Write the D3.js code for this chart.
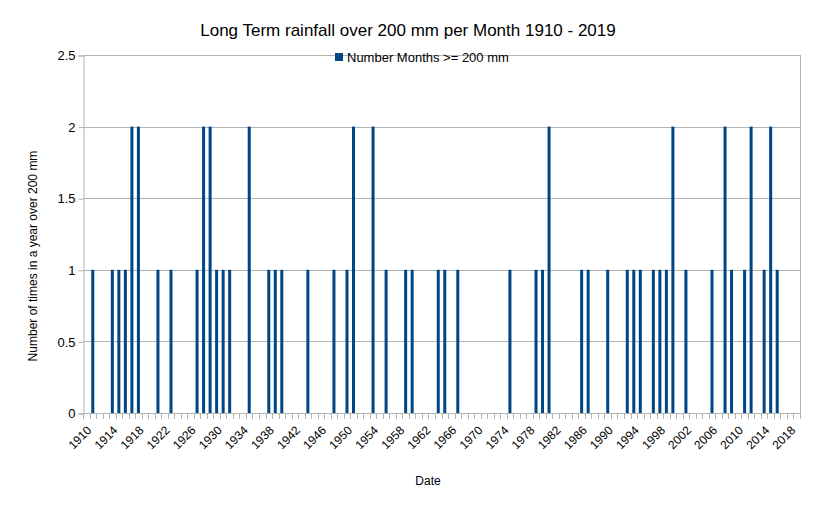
<!DOCTYPE html>
<html>
<head>
<meta charset="utf-8">
<script src="https://cdn.jsdelivr.net/npm/d3@7"></script>
<style>
  body { margin: 0; background: #fff; }
  text { font-family: "Liberation Sans", Arial, sans-serif; fill: #000; }
</style>
</head>
<body>
<svg width="815" height="508"></svg>
<script>
// years 1910 - 2019
var years = d3.range(1910, 2020);
// years with one month over 200 mm, and years with two
var oneMonth = [1911, 1914, 1915, 1916, 1921, 1923, 1927, 1930, 1931, 1932, 1938, 1939, 1940,
  1944, 1948, 1950, 1956, 1959, 1960, 1964, 1965, 1967, 1975, 1979, 1980, 1986, 1987, 1990,
  1993, 1994, 1995, 1997, 1998, 1999, 2002, 2006, 2009, 2011, 2014, 2016];
var twoMonths = [1917, 1918, 1928, 1929, 1935, 1951, 1954, 1981, 2000, 2008, 2012, 2015];
var counts = years.map(function(y) {
  if (twoMonths.indexOf(y) >= 0) return 2;
  if (oneMonth.indexOf(y) >= 0) return 1;
  return 0;
});
var yTicks = [0, 0.5, 1, 1.5, 2, 2.5];
var xLabels = years.filter(function(y) { return (y - 1910) % 4 === 0; });

var svg = d3.select("svg");
var plotL = 83, plotR = 800, plotT = 55, plotB = 413;

var x = d3.scaleBand().domain(years).range([plotL, plotR]);
var y = d3.scaleLinear().domain([0, 2.5]).range([plotB, plotT]);

// grid
svg.append("g").selectAll("line").data(yTicks).enter().append("line")
  .attr("x1", plotL).attr("x2", plotR)
  .attr("y1", function(d) { return Math.round(y(d)) + 0.5; })
  .attr("y2", function(d) { return Math.round(y(d)) + 0.5; })
  .attr("stroke", "#b3b3b3");

svg.append("line").attr("x1", plotR + 0.5).attr("x2", plotR + 0.5)
  .attr("y1", plotT).attr("y2", plotB).attr("stroke", "#b3b3b3");

// y axis
var yAxis = svg.append("g").attr("transform", "translate(" + (plotL + 0.5) + ",0.5)")
  .call(d3.axisLeft(y).tickValues(yTicks).tickSize(5).tickPadding(3)
    .tickFormat(function(d) { return String(d); }));
yAxis.select(".domain").attr("stroke", "#b3b3b3");
yAxis.selectAll(".tick line").attr("stroke", "#b3b3b3");
yAxis.selectAll("text").attr("font-size", 13).attr("font-family", "Liberation Sans, Arial, sans-serif");

// x axis ticks at every category boundary
svg.append("g").selectAll("line").data(years.concat([2020])).enter().append("line")
  .attr("x1", function(d) { return Math.round(d === 2020 ? plotR : x(d)) + 0.5; })
  .attr("x2", function(d) { return Math.round(d === 2020 ? plotR : x(d)) + 0.5; })
  .attr("y1", plotB).attr("y2", plotB + 6)
  .attr("stroke", "#b3b3b3");

svg.append("g").selectAll("text").data(xLabels).enter().append("text")
  .attr("transform", function(d) {
    return "translate(" + (x(d) + x.bandwidth() / 2 + 6) + "," + (plotB + 18) + ") rotate(-45)";
  })
  .attr("text-anchor", "end")
  .attr("font-size", 12)
  .text(function(d) { return d; });

// bars
var bw = 3;
svg.append("g").selectAll("rect").data(counts).enter().append("rect")
  .attr("x", function(d, i) { return x(years[i]) + x.bandwidth() / 2 - bw / 2; })
  .attr("y", function(d) { return y(d); })
  .attr("width", bw)
  .attr("height", function(d) { return plotB - y(d); })
  .attr("fill", "#004586");

// title and axis labels
svg.append("text").attr("x", 408).attr("y", 36).attr("text-anchor", "middle")
  .attr("font-size", 17).text("Long Term rainfall over 200 mm per Month 1910 - 2019");
svg.append("text").attr("transform", "translate(37,256) rotate(-90)")
  .attr("text-anchor", "middle").attr("font-size", 12)
  .text("Number of times in a year over 200 mm");
svg.append("text").attr("x", 428).attr("y", 485).attr("text-anchor", "middle")
  .attr("font-size", 12).text("Date");

// legend
svg.append("rect").attr("x", 335).attr("y", 53).attr("width", 8).attr("height", 8).attr("fill", "#004586");
svg.append("text").attr("x", 347).attr("y", 62).attr("font-size", 13).text("Number Months >= 200 mm");
</script>
</body>
</html>
